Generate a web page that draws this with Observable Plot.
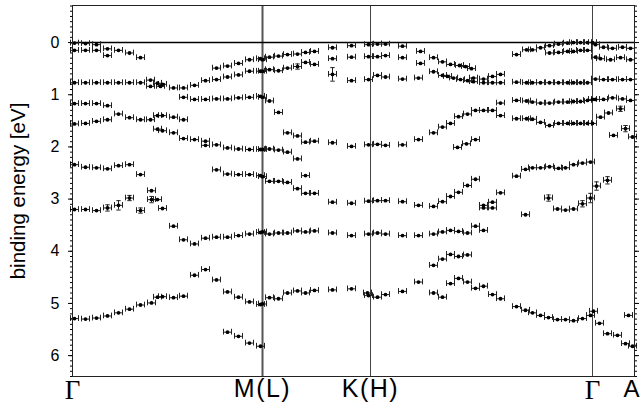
<!DOCTYPE html>
<html><head><meta charset="utf-8">
<script src="https://cdn.jsdelivr.net/npm/d3@7"></script>
<script src="https://cdn.jsdelivr.net/npm/@observablehq/plot@0.6"></script>
<style>
body{margin:0;background:#fff}
#chart svg{font-family:"Liberation Sans",Arial,sans-serif}
</style>
</head><body><div id="chart"></div>
<script>
// symmetry points along the k path (path units) and their labels
const symPos = [0, 1.90, 2.98, 5.20, 5.62];
const symLabels = ["Γ", "M(L)", "K(H)", "Γ", "A"];
const energyTicks = [0, 1, 2, 3, 4, 5, 6];
const minorTicks = d3.range(-7, 65).map(i => i / 10);

// measured points [k, binding energy eV] — Γ → M
const pointsGM = [
  [0.02,0.01],[0.13,0.02],[0.24,0.04],
  [0.02,0.15],[0.13,0.15],[0.24,0.15],[0.35,0.12],[0.46,0.15],[0.57,0.20],[0.68,0.29],[0.35,0.25],
  [0.02,0.77],[0.13,0.77],[0.24,0.77],[0.35,0.77],[0.46,0.77],[0.57,0.77],[0.68,0.77],[0.78,0.72],[0.78,0.84],[0.85,0.78],[0.88,0.84],[0.90,0.80],[1.01,0.87],[1.11,0.87],[1.22,0.82],[1.33,0.73],[1.44,0.71],[1.55,0.66],[1.66,0.62],[1.77,0.55],[1.88,0.55],
  [1.44,0.49],[1.55,0.45],[1.66,0.40],[1.77,0.33],[1.88,0.31],
  [1.11,1.05],[1.22,1.09],[1.33,1.09],[1.44,1.08],[1.55,1.08],[1.66,1.06],[1.77,1.05],[1.88,1.03],
  [0.02,1.17],[0.13,1.17],[0.24,1.17],[0.35,1.21],
  [0.02,1.56],[0.13,1.55],[0.24,1.51],[0.35,1.48],[0.46,1.37],[0.57,1.44],[0.68,1.48],[0.78,1.48],[0.85,1.40],[0.90,1.40],[1.01,1.43],[1.11,1.48],
  [0.85,1.66],[0.90,1.69],[1.01,1.73],[1.11,1.84],[1.22,1.86],[1.33,1.89],[1.33,1.97],[1.44,1.96],[1.55,2.02],[1.66,2.04],[1.77,2.05],[1.88,2.05],
  [0.02,2.34],[0.13,2.39],[0.24,2.40],[0.35,2.42],[0.46,2.36],[0.57,2.34],[0.68,2.53],
  [1.44,2.44],[1.55,2.52],[1.66,2.53],[1.77,2.53],[1.88,2.55],
  [0.02,3.20],[0.13,3.20],[0.24,3.22],[0.35,3.17],[0.46,3.12],[0.57,2.98],[0.68,3.22],[0.79,2.84],[0.79,3.01],[0.85,3.01],[0.90,3.18],[1.01,3.52],[1.11,3.78],[1.22,3.86],[1.33,3.75],[1.44,3.73],[1.55,3.73],[1.66,3.70],[1.77,3.67],[1.88,3.64],
  [0.02,5.29],[0.13,5.30],[0.24,5.28],[0.35,5.24],[0.46,5.18],[0.57,5.11],[0.68,5.03],[0.79,4.99],[0.85,4.88],[0.90,4.87],[1.01,4.89],[1.11,4.86],[1.22,4.46],[1.33,4.35],[1.44,4.55],[1.55,4.78],[1.66,4.88],[1.77,4.97],[1.88,5.02],
  [1.55,5.55],[1.66,5.63],[1.77,5.76],[1.88,5.82]
];
// M → K
const pointsMK = [
  [1.90,0.33],[1.97,0.28],[2.06,0.26],[2.15,0.23],[2.25,0.22],[2.33,0.19],[2.42,0.17],[2.60,0.10],[2.79,0.06],[2.96,0.04],
  [1.90,0.55],[1.97,0.52],[2.06,0.54],[2.15,0.49],[2.25,0.46],[2.33,0.38],[2.42,0.42],[2.60,0.31],[2.79,0.28],[2.96,0.27],
  [2.60,0.61],[2.79,0.73],[2.96,0.71],
  [1.90,1.05],[1.97,1.12],[2.06,1.34],[2.15,1.73],[2.25,1.79],[2.33,1.91],[2.42,1.89],[2.60,1.92],[2.79,1.99],[2.96,1.96],
  [1.90,2.05],[1.97,2.04],[2.06,2.06],[2.15,2.10],[2.25,2.23],
  [1.90,2.57],[1.97,2.66],[2.06,2.66],[2.15,2.68],[2.25,2.80],[2.33,2.89],[2.42,2.89],[2.60,3.06],[2.79,3.08],[2.96,3.04],[2.33,2.55],
  [1.90,3.63],[1.97,3.67],[2.06,3.65],[2.15,3.65],[2.25,3.61],[2.33,3.63],[2.42,3.61],[2.60,3.65],[2.79,3.70],[2.96,3.67],
  [1.90,5.01],[1.97,4.89],[2.06,4.91],[2.15,4.80],[2.25,4.76],[2.33,4.80],[2.42,4.75],[2.60,4.74],[2.79,4.72],[2.95,4.80],[2.96,4.85]
];
// K → Γ
const pointsKG = [
  [3.05,0.03],[3.13,0.03],[3.30,0.07],[3.48,0.17],[3.61,0.29],[3.70,0.37],[3.78,0.42],[3.87,0.44],[3.93,0.46],[3.99,0.50],
  [3.05,0.27],[3.13,0.25],[3.30,0.29],[3.48,0.40],[3.61,0.56],[3.70,0.63],[3.75,0.65],[3.81,0.68],[3.88,0.71],[3.95,0.73],[4.01,0.75],[4.11,0.77],[4.20,0.77],[4.28,0.77],
  [4.01,0.68],[4.11,0.70],[4.20,0.65],[4.28,0.61],
  [3.05,0.63],[3.13,0.66],[3.30,0.70],[3.46,0.68],
  [3.05,1.95],[3.13,1.97],[3.30,1.96],[3.46,1.86],[3.61,1.73],[3.70,1.62],[3.78,1.55],[3.86,1.42],[3.95,1.37],[4.03,1.30],[4.11,1.30],[4.20,1.30],[4.28,1.40],
  [3.05,3.03],[3.13,3.03],[3.30,3.05],[3.46,3.12],[3.61,3.14],[3.70,3.05],[3.78,2.95],[3.86,2.87],[3.95,2.74],[4.03,2.62],
  [3.85,2.01],[3.94,1.94],[4.03,1.86],
  [3.05,3.65],[3.13,3.67],[3.30,3.70],[3.46,3.70],[3.61,3.67],[3.70,3.63],[3.78,3.60],[3.86,3.62],[3.95,3.65],[4.03,3.52],[4.11,3.60],
  [3.05,4.88],[3.13,4.83],[3.30,4.77],[3.46,4.59],[3.61,4.27],[3.70,4.15],[3.78,4.06],[3.86,4.10],[3.95,4.07],
  [3.61,4.80],[3.70,4.88],[3.78,4.62],[3.86,4.52],[3.95,4.59],[4.03,4.71],[4.11,4.67],[4.20,4.83],[4.28,4.91],[4.44,5.06],[4.53,5.13],[4.60,5.18],[4.68,5.23],[4.76,5.27],[4.85,5.31],[4.93,5.31],[5.01,5.33],[5.10,5.29],[5.18,5.23],[5.21,5.15],
  [4.11,3.12],[4.11,3.17],[4.20,3.06],[4.20,3.17],[4.28,2.88],[4.53,3.30],[4.76,2.98],
  [4.44,0.23],[4.54,0.14],[4.60,0.14],[4.68,0.10],[4.77,0.06],[4.86,0.03],[4.95,0.01],[5.01,0.00],[5.08,0.00],[5.15,0.00],[5.20,0.00],
  [4.77,0.20],[4.86,0.19],[4.95,0.17],[5.01,0.17],[5.08,0.15],[5.15,0.15],
  [4.44,0.76],[4.54,0.77],[4.60,0.77],[4.68,0.77],[4.77,0.77],[4.86,0.77],[4.95,0.77],[5.01,0.77],[5.08,0.77],[5.15,0.77],
  [4.28,1.16],[4.44,1.11],[4.54,1.12],[4.60,1.14],[4.68,1.16],[4.77,1.16],[4.86,1.14],[4.95,1.14],[5.01,1.13],[5.08,1.13],[5.15,1.11],[5.20,1.09],
  [4.44,1.46],[4.54,1.46],[4.60,1.47],[4.68,1.53],[4.77,1.59],[4.86,1.55],[4.95,1.55],[5.01,1.55],[5.08,1.55],[5.15,1.55],[5.20,1.55],
  [4.44,2.56],[4.53,2.43],[4.60,2.40],[4.68,2.40],[4.77,2.38],[4.86,2.41],[4.93,2.40],[5.01,2.34],[5.10,2.31],[5.18,2.29],
  [4.85,3.19],[4.93,3.21],[5.01,3.19],[5.10,3.09],[5.18,2.98]
];
// Γ → A
const pointsGA = [
  [5.23,0.04],[5.31,0.09],[5.40,0.11],[5.50,0.09],[5.58,0.11],
  [5.23,0.28],[5.28,0.31],[5.38,0.33],[5.48,0.29],[5.58,0.33],
  [5.23,0.70],[5.31,0.71],[5.40,0.71],[5.50,0.71],[5.58,0.71],
  [5.23,1.09],[5.31,1.09],[5.40,1.06],[5.50,1.08],[5.58,1.11],
  [5.28,1.43],[5.36,1.35],[5.48,1.27],
  [5.41,1.78],[5.53,1.65],[5.60,1.81],
  [5.24,2.75],[5.35,2.64],
  [5.27,5.38],[5.35,5.58],[5.45,5.61],[5.53,5.77],[5.60,5.82],[5.56,5.23]
];
// points with a visible energy error bar [k, E, ±err]
const energyErrors = [
  [0.35,3.17,0.06],[0.46,3.12,0.09],[0.57,2.98,0.05],[0.68,3.22,0.05],[0.79,3.01,0.06],
  [2.25,0.46,0.05],[2.60,0.61,0.13],[4.76,2.98,0.06],[5.10,3.09,0.06],[5.18,2.98,0.09],
  [5.24,2.75,0.08],[5.35,2.64,0.07],[5.48,1.27,0.05],[5.53,1.65,0.06]
];
const kError = 0.04;   // ± momentum resolution (path units)
const capH = 0.055;    // half height of horizontal error caps (eV)
const capW = 0.022;    // half width of vertical error caps (path units)

const pts = [...pointsGM, ...pointsMK, ...pointsKG, ...pointsGA].map(([k, E]) => ({k, E}));
const vErr = energyErrors.map(([k, E, e]) => ({k, E, e}));

const chart = Plot.plot({
  width: 642, height: 411,
  marginTop: 5, marginBottom: 35, marginLeft: 72, marginRight: 8,
  x: {domain: [symPos[0], symPos[4]]},
  y: {domain: [-0.71, 6.40], reverse: true},
  style: {background: "#fff", fontFamily: "Liberation Sans, Arial, sans-serif", color: "#000"},
  marks: [
    Plot.ruleX([symPos[2], symPos[3]], {stroke: "#444", strokeWidth: 1}),
    Plot.ruleX([symPos[1]], {stroke: "#555", strokeWidth: 2}),
    Plot.ruleY([0], {stroke: "#000", strokeWidth: 1.5}),
    Plot.link(pts, {x1: d => d.k - kError, x2: d => d.k + kError, y1: "E", y2: "E", stroke: "#222", strokeWidth: 1}),
    Plot.ruleX(pts, {x: d => d.k - kError, y1: d => d.E - capH, y2: d => d.E + capH, stroke: "#222", strokeWidth: 1}),
    Plot.ruleX(pts, {x: d => d.k + kError, y1: d => d.E - capH, y2: d => d.E + capH, stroke: "#222", strokeWidth: 1}),
    Plot.ruleX(vErr, {x: "k", y1: d => d.E - d.e, y2: d => d.E + d.e, stroke: "#222", strokeWidth: 1}),
    Plot.link(vErr, {x1: d => d.k - capW, x2: d => d.k + capW, y1: d => d.E - d.e, y2: d => d.E - d.e, stroke: "#222"}),
    Plot.link(vErr, {x1: d => d.k - capW, x2: d => d.k + capW, y1: d => d.E + d.e, y2: d => d.E + d.e, stroke: "#222"}),
    Plot.dot(pts, {x: "k", y: "E", r: 1.9, fill: "#000"}),
    Plot.frame({stroke: "#222", strokeWidth: 1}),
    Plot.axisX({ticks: symPos, tickFormat: d => symLabels[symPos.indexOf(d)], tickSize: 0, tickPadding: 3, fontSize: 25, label: null}),
    Plot.axisY({ticks: energyTicks, tickSize: 4, tickPadding: 9, fontSize: 16, label: "binding energy [eV]", labelAnchor: "center", labelOffset: 62, labelArrow: "none"}),
    Plot.axisY({ticks: minorTicks, tickSize: 2, tickFormat: () => "", label: null}),
    Plot.axisY({anchor: "right", ticks: energyTicks, tickSize: 4, tickFormat: () => "", label: null}),
    Plot.axisY({anchor: "right", ticks: minorTicks, tickSize: 2, tickFormat: () => "", label: null})
  ]
});
document.getElementById("chart").append(chart);
chart.querySelectorAll("text").forEach(t => {
  const s = t.textContent;
  if (s === "Γ") { t.style.fontFamily = "'Liberation Serif', 'DejaVu Serif', serif"; t.setAttribute("font-size", 27); }
  else if (s === "M(L)" || s === "K(H)") { t.setAttribute("letter-spacing", "1.5"); }
  else if (s === "A") { t.setAttribute("font-size", 24); t.setAttribute("dx", "-3"); }
  if (s === "binding energy [eV]") { t.setAttribute("font-size", 20.5); }
});
</script>
</body></html>
